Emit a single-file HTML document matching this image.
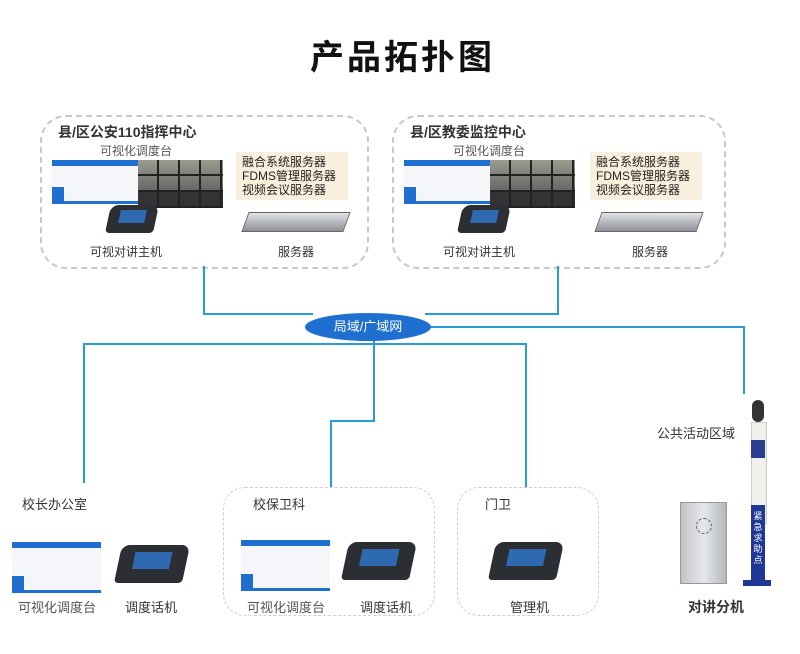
<!DOCTYPE html>
<html><head><meta charset="utf-8"><style>
body{margin:0;width:800px;height:654px;background:#fff;position:relative;overflow:hidden;font-family:"Liberation Sans","Noto Sans CJK SC",sans-serif;color:#333}
.a{position:absolute}
.box{position:absolute;border:2px dashed #c8c8c8;border-radius:26px}
.box2{position:absolute;border:1.5px dashed #cfcfcf;border-radius:22px}
.t{position:absolute;font-size:13px;white-space:nowrap}
.scr{position:absolute;background:#f4f6fa;border-top:6px solid #1e6fd0;border-bottom:3px solid #1e6fd0}
.scr:before{content:"";position:absolute;left:0;bottom:0;width:12px;height:14px;background:#1e6fd0}
.vid{position:absolute;background:#3a3f44;background-image:linear-gradient(90deg,transparent 19px,#222 19px,#222 21px,transparent 21px),linear-gradient(transparent 14px,#222 14px,#222 16px,transparent 16px),linear-gradient(#9a9a90 0,#666 65%,#333 66%);background-size:21px 100%,100% 16px,100% 100%}
.phone{position:absolute;background:#2b2e33;border-radius:8px 8px 4px 4px;transform:skewX(-12deg)}
.phone i{position:absolute;background:#2f6ab0;left:22%;top:18%;width:55%;height:45%}
.srv{position:absolute;background:linear-gradient(#e2e4e8,#8d9097);border:1px solid #666;transform:skewX(-20deg)}
.pan{position:absolute;background:#faeedd;font-size:12px;line-height:14px;padding:3px 6px;color:#222}
.l{position:absolute;background:#2a9ad8}
</style></head><body>
<div class="t" style="left:310px;top:30px;font-size:34px;letter-spacing:3px;color:#111;font-weight:bold">产品拓扑图</div>

<div class="box" style="left:40px;top:115px;width:325px;height:150px"></div>
<div class="t" style="left:58px;top:122px;font-weight:bold;font-size:14px">县/区公安110指挥中心</div>
<div class="t" style="left:100px;top:142px;font-size:12px;color:#555">可视化调度台</div>
<div class="scr" style="left:52px;top:160px;width:90px;height:35px"></div>
<div class="vid" style="left:138px;top:160px;width:85px;height:48px"></div>
<div class="phone" style="left:108px;top:205px;width:48px;height:28px"><i></i></div>
<div class="pan" style="left:236px;top:152px;width:100px">融合系统服务器<br>FDMS管理服务器<br>视频会议服务器</div>
<div class="srv" style="left:245px;top:212px;width:100px;height:18px"></div>
<div class="t" style="left:90px;top:243px;font-size:12px">可视对讲主机</div>
<div class="t" style="left:278px;top:243px;font-size:12px">服务器</div>

<div class="box" style="left:392px;top:115px;width:330px;height:150px"></div>
<div class="t" style="left:410px;top:122px;font-weight:bold;font-size:14px">县/区教委监控中心</div>
<div class="t" style="left:453px;top:142px;font-size:12px;color:#555">可视化调度台</div>
<div class="scr" style="left:404px;top:160px;width:90px;height:35px"></div>
<div class="vid" style="left:490px;top:160px;width:85px;height:48px"></div>
<div class="phone" style="left:460px;top:205px;width:48px;height:28px"><i></i></div>
<div class="pan" style="left:590px;top:152px;width:100px">融合系统服务器<br>FDMS管理服务器<br>视频会议服务器</div>
<div class="srv" style="left:598px;top:212px;width:100px;height:18px"></div>
<div class="t" style="left:443px;top:243px;font-size:12px">可视对讲主机</div>
<div class="t" style="left:632px;top:243px;font-size:12px">服务器</div>

<div class="l" style="left:203px;top:266px;width:2px;height:49px"></div>
<div class="l" style="left:203px;top:313px;width:110px;height:2px"></div>
<div class="l" style="left:557px;top:266px;width:2px;height:49px"></div>
<div class="l" style="left:425px;top:313px;width:134px;height:2px"></div>
<div class="l" style="left:428px;top:326px;width:317px;height:1.5px"></div>
<div class="l" style="left:743px;top:326px;width:1.5px;height:68px"></div>
<div class="l" style="left:83px;top:343px;width:443px;height:1.5px"></div>
<div class="l" style="left:83px;top:343px;width:1.5px;height:140px"></div>
<div class="l" style="left:525px;top:343px;width:1.5px;height:145px"></div>
<div class="l" style="left:373px;top:338px;width:1.5px;height:83px"></div>
<div class="l" style="left:330px;top:420px;width:45px;height:1.5px"></div>
<div class="l" style="left:330px;top:420px;width:1.5px;height:68px"></div>
<div class="a" style="left:305px;top:313px;width:126px;height:28px;border-radius:50%;background:#1e6fd0;color:#fff;font-size:13px;text-align:center;line-height:28px">局域/广域网</div>

<div class="t" style="left:22px;top:494px;font-size:13px">校长办公室</div>
<div class="scr" style="left:12px;top:542px;width:89px;height:42px"></div>
<div class="phone" style="left:118px;top:545px;width:68px;height:38px"><i></i></div>
<div class="t" style="left:18px;top:597px;font-size:13px;color:#555">可视化调度台</div>
<div class="t" style="left:125px;top:597px;font-size:13px">调度话机</div>

<div class="box2" style="left:223px;top:487px;width:210px;height:127px"></div>
<div class="t" style="left:253px;top:494px;font-size:13px">校保卫科</div>
<div class="scr" style="left:241px;top:540px;width:89px;height:42px"></div>
<div class="phone" style="left:345px;top:542px;width:68px;height:38px"><i></i></div>
<div class="t" style="left:247px;top:597px;font-size:13px;color:#555">可视化调度台</div>
<div class="t" style="left:360px;top:597px;font-size:13px">调度话机</div>

<div class="box2" style="left:457px;top:487px;width:140px;height:127px"></div>
<div class="t" style="left:485px;top:494px;font-size:13px">门卫</div>
<div class="phone" style="left:492px;top:542px;width:68px;height:38px"><i></i></div>
<div class="t" style="left:510px;top:597px;font-size:13px">管理机</div>

<div class="t" style="left:657px;top:423px;font-size:13px">公共活动区域</div>
<div class="a" style="left:680px;top:502px;width:45px;height:80px;background:linear-gradient(90deg,#bfc3c8,#e6e8eb,#b4b8bd);border:1px solid #999"></div>
<div class="a" style="left:696px;top:518px;width:14px;height:14px;border-radius:50%;border:1px dashed #666"></div>
<div class="a" style="left:752px;top:400px;width:12px;height:22px;background:#333;border-radius:6px"></div>
<div class="a" style="left:751px;top:422px;width:14px;height:100px;background:#f0f0ec;border:1px solid #ccc"></div>
<div class="a" style="left:751px;top:440px;width:14px;height:18px;background:#2a3f8e"></div>
<div class="a" style="left:751px;top:505px;width:14px;height:80px;background:#1f3896;color:#fff;font-size:9px;line-height:11px;text-align:center;padding-top:6px;box-sizing:border-box">紧急求助点</div>
<div class="a" style="left:743px;top:580px;width:28px;height:6px;background:#1f3896"></div>
<div class="t" style="left:688px;top:597px;font-size:14px;font-weight:bold">对讲分机</div>
</body></html>
